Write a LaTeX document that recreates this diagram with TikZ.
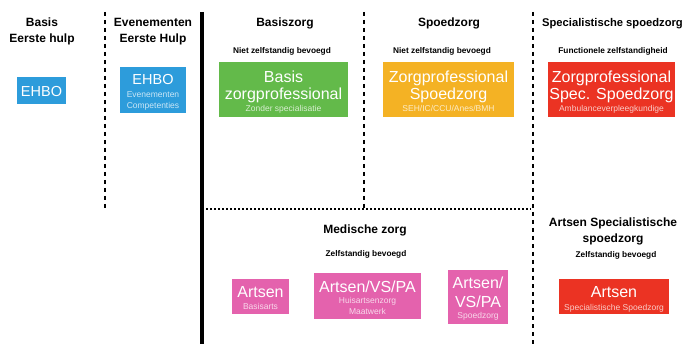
\documentclass[tikz,border=0pt]{standalone}
\usepackage{fontspec}
\setmainfont{Liberation Sans}
\definecolor{ehbo}{RGB}{45,156,219}
\definecolor{groen}{RGB}{99,186,74}
\definecolor{oranje}{RGB}{244,178,36}
\definecolor{rood}{RGB}{235,51,35}
\definecolor{roze}{RGB}{228,98,173}
\begin{document}
\begin{tikzpicture}[x=1pt,y=-1pt,
  box/.style={draw=none,inner sep=0pt,anchor=north west},
  hdr/.style={font=\fontsize{12}{14}\selectfont\bfseries,inner sep=0pt,anchor=base},
  sub/.style={font=\fontsize{8.3}{10}\selectfont\bfseries,inner sep=0pt,anchor=base},
  big/.style={font=\fontsize{16}{18}\selectfont,text=white,inner sep=0pt,anchor=base},
  mid/.style={font=\fontsize{14.5}{16}\selectfont,text=white,inner sep=0pt,anchor=base},
  sml/.style={font=\fontsize{8.5}{10}\selectfont,text=white,text opacity=0.75,inner sep=0pt,anchor=base},
  dashline/.style={line width=2.5pt,dash pattern=on 4pt off 4pt},
  dotline/.style={line width=1.8pt,dash pattern=on 1.8pt off 2.2pt},
  solidline/.style={line width=4pt}]
\useasboundingbox (0,0) rectangle (684,344);

% separators
\coordinate (d1t) at (105,12); \coordinate (d1b) at (105,208);
\coordinate (st) at (201.5,12); \coordinate (sb) at (201.5,344);
\coordinate (d2t) at (364,12); \coordinate (d2b) at (364,209);
\coordinate (d3t) at (533,12); \coordinate (d3b) at (533,344);
\coordinate (hl) at (206,209); \coordinate (hr) at (531,209);
\draw[dashline] (d1t) -- (d1b);
\draw[solidline] (st) -- (sb);
\draw[dashline] (d2t) -- (d2b);
\draw[dashline] (d3t) -- (d3b);
\draw[dotline] (hl) -- (hr);

% headers
\node[hdr] (h1a) at (42,27) {Basis};
\node[hdr] (h1b) at (42,43) {Eerste hulp};
\node[hdr] (h2a) at (153,27) {Evenementen};
\node[hdr] (h2b) at (153,43) {Eerste Hulp};
\node[hdr] (h3) at (285,27) {Basiszorg};
\node[hdr] (h4) at (449,27) {Spoedzorg};
\node[hdr,font=\fontsize{11.2}{13}\selectfont\bfseries] (h5) at (612.5,27) {Specialistische spoedzorg};
\node[sub] (s3) at (282,54) {Niet zelfstandig bevoegd};
\node[sub] (s4) at (442,54) {Niet zelfstandig bevoegd};
\node[sub] (s5) at (613,54) {Functionele zelfstandigheid};

% top boxes
\node[box,fill=ehbo,minimum width=49pt,minimum height=27pt] (b1) at (17,77) {};
\node[mid] (b1t) at (41.5,96.5) {EHBO};
\node[box,fill=ehbo,minimum width=66pt,minimum height=46pt] (b2) at (120,67) {};
\node[mid] (b2t) at (153,84.5) {EHBO};
\node[sml] (b2s1) at (153,98) {Evenementen};
\node[sml] (b2s2) at (153,108.5) {Competenties};
\node[box,fill=groen,minimum width=129pt,minimum height=55pt] (b3) at (219,62) {};
\node[big] (b3a) at (283.5,83) {Basis};
\node[big] (b3b) at (283.5,100) {zorgprofessional};
\node[sml] (b3c) at (283.5,111.5) {Zonder specialisatie};
\node[box,fill=oranje,minimum width=131pt,minimum height=55pt] (b4) at (383,62) {};
\node[big] (b4a) at (448.5,83) {Zorgprofessional};
\node[big] (b4b) at (448.5,100) {Spoedzorg};
\node[sml] (b4c) at (448.5,112) {SEH/IC/CCU/Anes/BMH};
\node[box,fill=rood,minimum width=127pt,minimum height=55pt] (b5) at (548,62) {};
\node[big] (b5a) at (611.5,83) {Zorgprofessional};
\node[big] (b5b) at (611.5,100) {Spec. Spoedzorg};
\node[sml] (b5c) at (611.5,112) {Ambulanceverpleegkundige};

% bottom headers
\node[hdr] (m1) at (365,234) {Medische zorg};
\node[sub] (m2) at (366,257) {Zelfstandig bevoegd};
\node[hdr] (r1a) at (613,227) {Artsen Specialistische};
\node[hdr] (r1b) at (613,243) {spoedzorg};
\node[sub] (r2) at (616,258) {Zelfstandig bevoegd};

% bottom boxes
\node[box,fill=roze,minimum width=57pt,minimum height=35pt] (p1) at (232,279) {};
\node[big] (p1a) at (260.5,297) {Artsen};
\node[sml] (p1b) at (260.5,309) {Basisarts};
\node[box,fill=roze,minimum width=107pt,minimum height=46pt] (p2) at (314,273) {};
\node[big] (p2a) at (367.5,292) {Artsen/VS/PA};
\node[sml] (p2b) at (367.5,303) {Huisartsenzorg};
\node[sml] (p2c) at (367.5,314) {Maatwerk};
\node[box,fill=roze,minimum width=60pt,minimum height=54pt] (p3) at (448,270) {};
\node[big] (p3a) at (478,288) {Artsen/};
\node[big] (p3b) at (478,307) {VS/PA};
\node[sml] (p3c) at (478,318.5) {Spoedzorg};
\node[box,fill=rood,minimum width=110pt,minimum height=35pt] (p4) at (559,279) {};
\node[big] (p4a) at (614,297) {Artsen};
\node[sml] (p4b) at (614,310) {Specialistische Spoedzorg};
\end{tikzpicture}
\end{document}
